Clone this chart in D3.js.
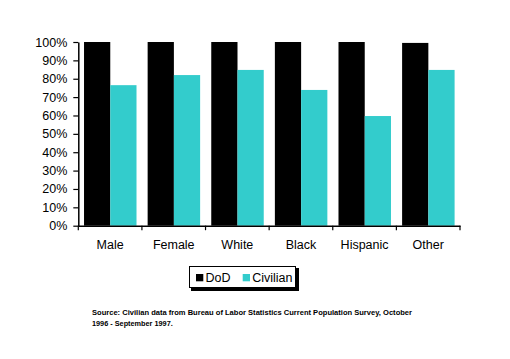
<!DOCTYPE html>
<html><head><meta charset="utf-8">
<script src="https://cdn.jsdelivr.net/npm/d3@7"></script>
<style>body{margin:0;background:#fff}svg{display:block}text{font-family:"Liberation Sans",Arial,sans-serif}</style>
</head><body><svg id="c" width="510" height="359"></svg>
<script>
const categories = ["Male","Female","White","Black","Hispanic","Other"];
const seriesNames = ["DoD","Civilian"];
const dodValues = [1.00,1.00,1.00,1.00,1.00,0.995];
const civilianValues = [0.765,0.82,0.848,0.739,0.597,0.848];
const yTicks = [0,0.1,0.2,0.3,0.4,0.5,0.6,0.7,0.8,0.9,1.0];
const colors = ["#000000","#33CCCC"];
const sourceLines = ["Source:  Civilian data from Bureau of Labor Statistics Current Population Survey, October","1996 - September 1997."];

const svg = d3.select("#c");
const L=78.3, R=460, T=42, B=225.7;
const x = d3.scaleBand().domain(categories).range([L,R]).padding(0);
const bw = x.bandwidth();
const x1 = d3.scaleBand().domain(seriesNames).range([bw*0.09, bw*0.915]).padding(0);
const y = d3.scaleLinear().domain([0,1]).range([B,T]);
const color = d3.scaleOrdinal().domain(seriesNames).range(colors);

const rows = categories.map((c,i)=>({cat:c, vals:[{s:"DoD",v:dodValues[i]},{s:"Civilian",v:civilianValues[i]}]}));
const g = svg.selectAll("g.grp").data(rows).join("g").attr("class","grp")
  .attr("transform",d=>`translate(${x(d.cat)},0)`);
g.selectAll("rect").data(d=>d.vals).join("rect")
  .attr("x",d=>x1(d.s)).attr("width",x1.bandwidth())
  .attr("y",d=>y(d.v)).attr("height",d=>B-y(d.v))
  .attr("fill",d=>color(d.s));

const yAxis = svg.append("g").attr("transform",`translate(${L},0)`)
  .call(d3.axisLeft(y).tickValues(yTicks).tickFormat(d3.format(".0%")).tickSizeInner(5).tickSizeOuter(0).tickPadding(6));
yAxis.select(".domain").attr("stroke-width",1.5);
yAxis.selectAll(".tick line").attr("stroke-width",1.2);
yAxis.selectAll("text").attr("font-size","12.5px").attr("fill","#000");

const xAxis = svg.append("g").attr("transform",`translate(0,${B})`)
  .call(d3.axisBottom(x).tickSize(0).tickPadding(14));
xAxis.select(".domain").attr("stroke-width",1.5);
xAxis.selectAll("text").attr("font-size","12.5px").attr("fill","#000");
// category boundary ticks
const bounds = categories.map(c=>x(c)).concat([R]);
svg.append("g").selectAll("line").data(bounds).join("line")
  .attr("x1",d=>d).attr("x2",d=>d).attr("y1",B).attr("y2",B+4.5)
  .attr("stroke","#000").attr("stroke-width",1.2);

// legend
const lg = svg.append("g");
lg.append("rect").attr("x",191).attr("y",268).attr("width",108).attr("height",23).attr("fill","#000");
lg.append("rect").attr("x",189.5).attr("y",266.5).attr("width",106).attr("height",21).attr("fill","#fff").attr("stroke","#000").attr("stroke-width",1);
const legItems = [{s:"DoD",x:196},{s:"Civilian",x:242.7}];
legItems.forEach(it=>{
  lg.append("rect").attr("x",it.x).attr("y",274).attr("width",7.3).attr("height",7.3).attr("fill",color(it.s));
  lg.append("text").attr("x",it.x+9.5).attr("y",282).attr("font-size","12.5px").text(it.s);
});

// source
svg.append("text").attr("x",92).attr("y",315).attr("font-size","7.3px").attr("font-weight","bold")
  .attr("textLength",320).attr("lengthAdjust","spacingAndGlyphs").text(sourceLines[0]);
svg.append("text").attr("x",92).attr("y",326).attr("font-size","7.3px").attr("font-weight","bold").text(sourceLines[1]);
</script></body></html>
